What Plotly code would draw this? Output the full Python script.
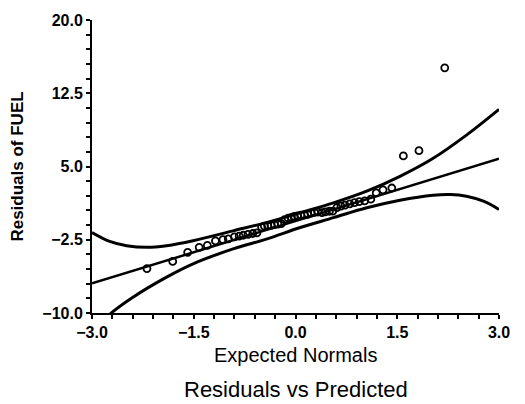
import plotly.graph_objects as go

# Normal probability plot of FUEL residuals
expected_normals = [
    -2.19, -1.81, -1.59, -1.42, -1.30, -1.18, -1.07, -0.99, -0.90, -0.83,
    -0.77, -0.70, -0.63, -0.57, -0.50, -0.46, -0.41, -0.36, -0.31, -0.26,
    -0.21, -0.16, -0.11, -0.06, -0.02, 0.03, 0.08, 0.13, 0.18, 0.23,
    0.28, 0.33, 0.39, 0.44, 0.50, 0.55, 0.61, 0.67, 0.73, 0.80,
    0.87, 0.94, 1.02, 1.11, 1.19, 1.29, 1.42, 1.59, 1.82, 2.20,
]
residuals = [
    -5.45, -4.72, -3.79, -3.28, -3.08, -2.62, -2.48, -2.42, -2.20, -2.12,
    -2.04, -1.95, -1.86, -1.80, -1.20, -1.10, -1.08, -1.02, -0.95, -0.90,
    -0.85, -0.45, -0.30, -0.20, -0.12, -0.05, 0.02, 0.05, 0.10, 0.22,
    0.30, 0.34, 0.28, 0.36, 0.42, 0.44, 0.80, 0.95, 1.05, 1.18,
    1.30, 1.40, 1.48, 1.65, 2.29, 2.60, 2.80, 6.08, 6.62, 15.1,
]

# Fitted reference line
fit_x = [-3.0, 3.0]
fit_y = [-6.97, 5.80]

# Confidence band
upper_x = [-3.0, -2.74, -2.49, -2.19, -1.90, -1.51, -0.92, -0.43, 0.07, 0.56, 1.05, 1.54, 2.03, 2.52, 3.0]
upper_y = [-1.76, -2.67, -3.11, -3.28, -3.11, -2.60, -1.59, -0.75, 0.27, 1.28, 2.47, 3.99, 5.84, 8.21, 10.85]
lower_x = [-3.0, -2.74, -2.39, -1.90, -1.51, -0.92, -0.43, 0.07, 0.56, 1.05, 1.54, 2.03, 2.28, 2.52, 2.77, 3.0]
lower_y = [-12.2, -10.15, -8.35, -6.32, -4.96, -3.44, -2.43, -1.25, -0.24, 0.77, 1.55, 2.06, 2.13, 1.96, 1.45, 0.61]

x_ticks = [-3.0, -1.5, 0.0, 1.5, 3.0]
y_ticks = [-10.0, -2.5, 5.0, 12.5, 20.0]

FONT = "Liberation Sans"

fig = go.Figure()
fig.add_trace(go.Scatter(x=upper_x, y=upper_y, mode="lines",
                         line=dict(color="black", width=3, shape="spline", smoothing=1.0),
                         hoverinfo="skip"))
fig.add_trace(go.Scatter(x=lower_x, y=lower_y, mode="lines",
                         line=dict(color="black", width=3, shape="spline", smoothing=1.0),
                         hoverinfo="skip"))
fig.add_trace(go.Scatter(x=fit_x, y=fit_y, mode="lines",
                         line=dict(color="black", width=2.5), hoverinfo="skip"))
fig.add_trace(go.Scatter(x=expected_normals, y=residuals, mode="markers",
                         marker=dict(symbol="circle-open", size=7, color="black",
                                     line=dict(width=1.8, color="black"))))

fig.update_layout(
    width=525, height=404,
    margin=dict(l=92, r=26, t=17, b=91),
    paper_bgcolor="white", plot_bgcolor="white",
    showlegend=False,
    font=dict(family=FONT, color="black"),
    annotations=[
        dict(text="Expected Normals", xref="paper", yref="paper",
             x=0.5, y=-0.142, xanchor="center", yanchor="middle",
             showarrow=False, font=dict(family=FONT, size=20, color="black")),
        dict(text="Residuals vs Predicted", xref="paper", yref="paper",
             x=0.5, y=-0.262, xanchor="center", yanchor="middle",
             showarrow=False, font=dict(family=FONT, size=22, color="black")),
    ],
)

fig.update_xaxes(
    range=[-3.0, 3.0], tickvals=x_ticks, tickformat=".1f",
    showgrid=False, zeroline=False,
    showline=True, linecolor="black", linewidth=2,
    ticks="outside", ticklen=4, tickwidth=2, tickcolor="black",
    minor=dict(dtick=0.3, tick0=-3.0, ticks="outside", ticklen=4, tickwidth=2, tickcolor="black"),
    tickfont=dict(family=FONT, size=16, weight=700, color="black"),
)
fig.update_yaxes(
    range=[-10.0, 20.0], tickvals=y_ticks, tickformat=".1f",
    showgrid=False, zeroline=False,
    showline=True, linecolor="black", linewidth=2,
    ticks="outside", ticklen=4, tickwidth=2, tickcolor="black",
    minor=dict(dtick=1.5, tick0=-10.0, ticks="outside", ticklen=4, tickwidth=2, tickcolor="black"),
    tickfont=dict(family=FONT, size=16, weight=700, color="black"),
    title=dict(text="Residuals of FUEL", font=dict(family=FONT, size=17, weight=700, color="black"), standoff=14),
)

fig.write_html("out.html")
